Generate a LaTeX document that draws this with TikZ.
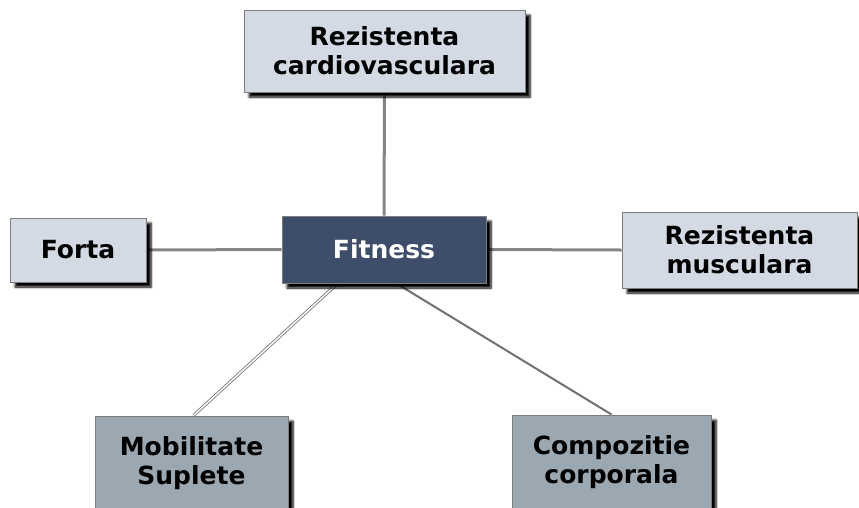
\documentclass[tikz,border=0pt]{standalone}
\usepackage{fontspec}
\setmainfont{DejaVu Sans}
\usetikzlibrary{shadows.blur,backgrounds,calc}
\definecolor{lightbox}{HTML}{D3DAE4}
\definecolor{darkbox}{HTML}{3E4E6A}
\definecolor{midbox}{HTML}{9BA8B2}
\definecolor{edgegray}{HTML}{7E7E7E}
\definecolor{linegray}{HTML}{858585}
\tikzset{
  box/.style={draw=edgegray, line width=1pt, inner sep=0pt, align=center,
    font=\fontsize{25}{29}\selectfont\bfseries,
    blur shadow={shadow xshift=5pt, shadow yshift=-5pt, shadow blur radius=2.2pt, shadow blur steps=6, shadow opacity=100}},
  light/.style={box, fill=lightbox, text=black},
  dark/.style={box, fill=darkbox, text=white},
  mid/.style={box, fill=midbox, text=black},
  conn/.style={draw=linegray, line width=3pt},
  conndbl/.style={draw=edgegray, line width=0.9pt, double=white, double distance=1.4pt},
  connthin/.style={draw=edgegray!90!black, line width=2pt}
}
\begin{document}
\begin{tikzpicture}[x=1pt,y=-1pt]
\useasboundingbox (0,0) rectangle (859,507);
\node[light, minimum width=281pt, minimum height=82pt] (cardio) at (384.5,51) {Rezistenta\\cardiovasculara};
\node[light, minimum width=136pt, minimum height=64pt] (forta) at (78,250) {Forta};
\node[dark, minimum width=204pt, minimum height=67pt] (fitness) at (384,249.5) {Fitness};
\node[light, minimum width=235pt, minimum height=76pt] (musc) at (739.5,250) {Rezistenta\\musculara};
\node[mid, minimum width=193pt, minimum height=94pt] (mobil) at (191.5,463) {Mobilitate\\Suplete};
\node[mid, minimum width=199pt, minimum height=94pt] (compo) at (611.5,462) {Compozitie\\corporala};
\coordinate (fa) at ($(fitness.south west)+(56,0)$);
\coordinate (fb) at ($(fitness.south west)+(115,0)$);
\coordinate (ma) at ($(mobil.north west)+(99,0)$);
\coordinate (cb) at ($(compo.north west)+(100,0)$);
\begin{pgfonlayer}{background}
\draw[conn] (cardio.south) -- (fitness.north);
\draw[conn] (forta.east) -- (fitness.west);
\draw[conn] (fitness.east) -- (musc.west);
\draw[conndbl] (fa) -- (ma);
\draw[connthin] (fb) -- (cb);
\end{pgfonlayer}
\end{tikzpicture}
\end{document}
